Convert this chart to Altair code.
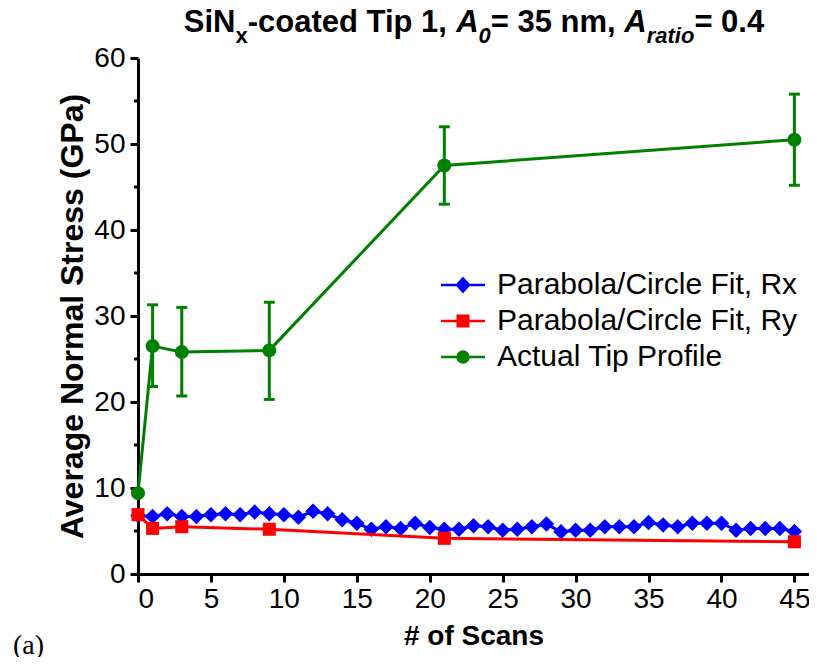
import altair as alt
import pandas as pd

# ---------------- data ----------------
series_names = ["Parabola/Circle Fit, Rx", "Parabola/Circle Fit, Ry", "Actual Tip Profile"]
series_colors = ["#0000FF", "#FF0000", "#008000"]

rx_scans = list(range(46))
rx_stress = [6.8, 6.7, 7.0, 6.7, 6.7, 6.9, 7.0, 6.9, 7.2, 7.0,
             6.9, 6.6, 7.3, 7.0, 6.3, 5.9, 5.2, 5.5, 5.3, 5.9,
             5.4, 5.2, 5.2, 5.6, 5.5, 5.1, 5.2, 5.5, 5.8, 4.9,
             5.1, 5.1, 5.5, 5.5, 5.5, 6.0, 5.7, 5.5, 5.9, 5.9,
             5.9, 5.1, 5.3, 5.3, 5.3, 4.95]

ry_scans = [0, 1, 3, 9, 21, 45]
ry_stress = [6.9, 5.3, 5.5, 5.2, 4.15, 3.75]

tip_scans = [0, 1, 3, 9, 21, 45]
tip_stress = [9.4, 26.5, 25.8, 26.0, 47.5, 50.5]
tip_low = [None, 21.8, 20.7, 20.3, 43.0, 45.2]
tip_high = [None, 31.3, 31.0, 31.6, 52.0, 55.8]

x_ticks = list(range(0, 46, 5))
y_ticks = list(range(0, 61, 10))
y_minor = list(range(5, 60, 10))

title_parts = [  # (text, size kind, italic)
    ("SiN", "main", False), ("x", "sub", False), ("-coated Tip 1, ", "main", False),
    ("A", "main", True), ("0", "sub", True), ("= 35 nm, ", "main", False),
    ("A", "main", True), ("ratio", "sub", True), ("= 0.4", "main", False),
]
panel_label = "(a)"

# ---------------- frames ----------------
rx_df = pd.DataFrame({"scans": rx_scans, "stress": rx_stress, "series": series_names[0]})
ry_df = pd.DataFrame({"scans": ry_scans, "stress": ry_stress, "series": series_names[1]})
tip_df = pd.DataFrame({"scans": tip_scans, "stress": tip_stress, "series": series_names[2],
                       "lo": tip_low, "hi": tip_high})
err_df = tip_df.dropna(subset=["lo", "hi"])
minor_df = pd.DataFrame({"stress": y_minor})

FONT = "Liberation Sans"

legend_paths = [
    "M-3.14,0L3.14,0M-0.85,0L0,-0.95L0.85,0L0,0.95Z",
    "M-3.14,0L3.14,0M-0.75,-0.75L0.75,-0.75L0.75,0.75L-0.75,0.75Z",
    "M-3.14,0L3.14,0M-0.78,0A0.78,0.78,0,1,1,0.78,0A0.78,0.78,0,1,1,-0.78,0Z",
]


def color_enc(i, with_legend):
    if with_legend:
        lg = alt.Legend(
            title=None, orient="none", legendX=310, legendY=212 + 36 * i,
            labelFont=FONT, labelFontSize=30, labelColor="black", labelOffset=19,
            labelLimit=0, symbolType=legend_paths[i], symbolSize=196,
            symbolStrokeWidth=2.5, symbolFillColor=series_colors[i],
            symbolStrokeColor=series_colors[i], symbolOpacity=1, padding=0)
    else:
        lg = None
    return alt.Color("series:N", scale=alt.Scale(domain=[series_names[i]],
                                                 range=[series_colors[i]]), legend=lg)


x_axis = alt.Axis(values=x_ticks, title="# of Scans", format="d")
y_axis = alt.Axis(values=y_ticks, title="Average Normal Stress (GPa)", format="d")
x_scale = alt.Scale(domain=[0, 46], nice=False, zero=False)
y_scale = alt.Scale(domain=[0, 60], nice=False)

X = alt.X("scans:Q", scale=x_scale, axis=x_axis)
Y = alt.Y("stress:Q", scale=y_scale, axis=y_axis)

layers = []
# blue series
layers.append(alt.Chart(rx_df).mark_line(strokeWidth=3).encode(x=X, y=Y, color=color_enc(0, False)))
layers.append(alt.Chart(rx_df).mark_point(shape="diamond", filled=True, size=240, opacity=1)
              .encode(x=X, y=Y, color=color_enc(0, True)))
# red series
layers.append(alt.Chart(ry_df).mark_line(strokeWidth=3).encode(x=X, y=Y, color=color_enc(1, False)))
layers.append(alt.Chart(ry_df).mark_point(shape="square", filled=True, size=170, opacity=1)
              .encode(x=X, y=Y, color=color_enc(1, True)))
# green error bars
layers.append(alt.Chart(err_df).mark_rule(strokeWidth=3, color=series_colors[2]).encode(
    x=X, y=alt.Y("lo:Q", scale=y_scale, axis=y_axis), y2="hi:Q"))
layers.append(alt.Chart(err_df).mark_tick(orient="horizontal", size=11, thickness=3,
                                          color=series_colors[2], opacity=1).encode(
    x=X, y=alt.Y("lo:Q", scale=y_scale, axis=y_axis)))
layers.append(alt.Chart(err_df).mark_tick(orient="horizontal", size=11, thickness=3,
                                          color=series_colors[2], opacity=1).encode(
    x=X, y=alt.Y("hi:Q", scale=y_scale, axis=y_axis)))
# green series
layers.append(alt.Chart(tip_df).mark_line(strokeWidth=3).encode(x=X, y=Y, color=color_enc(2, False)))
layers.append(alt.Chart(tip_df).mark_point(shape="circle", filled=True, size=196, opacity=1)
              .encode(x=X, y=Y, color=color_enc(2, True)))
# minor y ticks
layers.append(alt.Chart(minor_df).mark_rule(color="black", strokeWidth=3).encode(
    y=Y, x=alt.value(-4), x2=alt.value(0)))

# title built from pieces
widths = {'S': 667, 'i': 278, 'N': 722, 'x': 556, '-': 333, 'c': 556, 'o': 611, 'a': 556,
          't': 333, 'e': 556, 'd': 611, ' ': 278, 'T': 611, 'p': 611, '1': 556, ',': 278,
          'A': 722, '0': 556, '=': 584, '3': 556, '5': 556, 'n': 611, 'm': 889, 'r': 389,
          '.': 278, '4': 556}
sizes = {"main": 31, "sub": 22}
base_y = {"main": -26, "sub": -15}
total = sum(sum(widths[ch] for ch in t) * sizes[k] / 1000 for t, k, _ in title_parts)
xpos = 336 - total / 2
one = alt.Data(values=[{}])
for t, k, it in title_parts:
    layers.append(alt.Chart(one).mark_text(
        text=t, font=FONT, fontSize=sizes[k], fontWeight="bold",
        fontStyle="italic" if it else "normal", align="left", baseline="alphabetic",
        color="black").encode(x=alt.value(xpos), y=alt.value(base_y[k])))
    xpos += sum(widths[ch] for ch in t) * sizes[k] / 1000

layers.append(alt.Chart(one).mark_text(
    text=panel_label, font="Liberation Serif", fontSize=28, align="left",
    baseline="alphabetic", color="black").encode(x=alt.value(-125), y=alt.value(596)))

chart = alt.layer(*layers).resolve_scale(color="independent").properties(
    width=671, height=516,
    autosize=alt.AutoSizeParams(type="none"),
    padding={"left": 130, "top": 50, "right": 0, "bottom": 83},
    background="white",
).configure_view(stroke=None).configure_axis(
    domainColor="black", domainWidth=3, tickColor="black", tickWidth=3, tickSize=8,
    labelFont=FONT, labelFontSize=28, labelColor="black", grid=False,
    titleFont=FONT, titleFontSize=32, titleFontWeight="bold", titleColor="black",
).configure_axisLeft(labelPadding=5, titlePadding=4).configure_axisBottom(
    labelPadding=3, titlePadding=9, titleFontSize=28)

chart.save("out.html", embed_options={"renderer": "svg", "actions": False})
